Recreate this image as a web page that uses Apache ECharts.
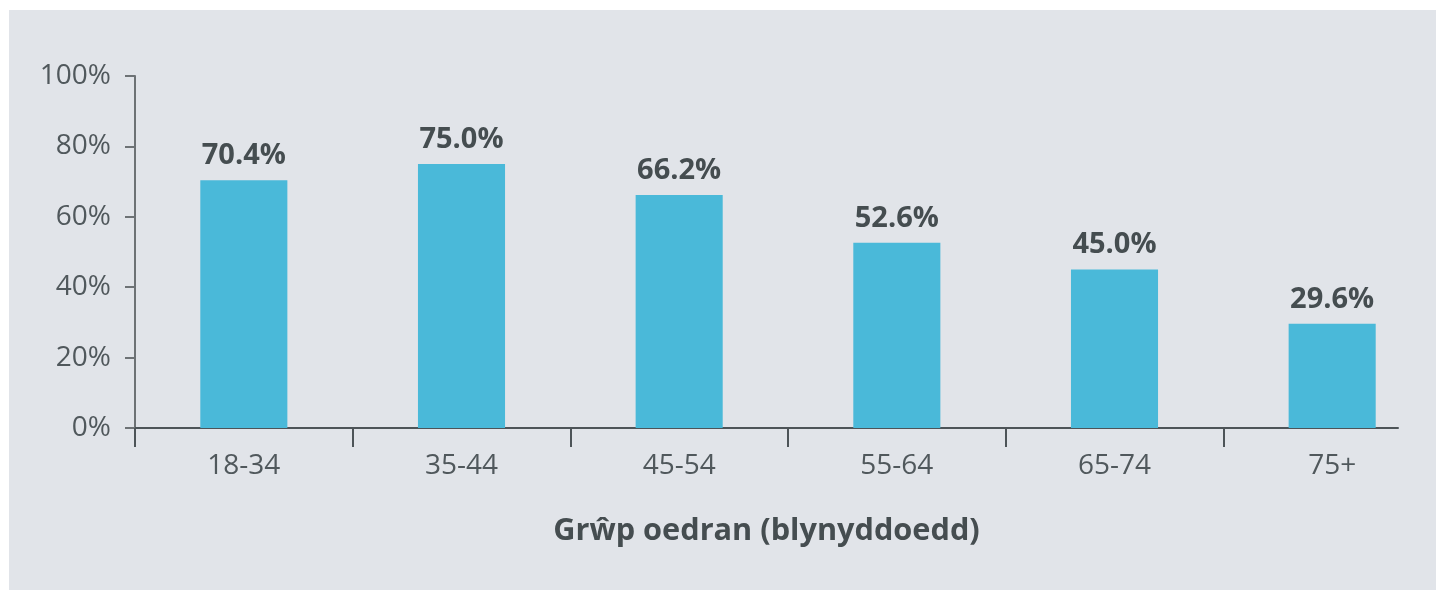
<!DOCTYPE html>
<html>
<head>
<meta charset="utf-8">
<script src="https://cdn.jsdelivr.net/npm/echarts@6/dist/echarts.min.js"></script>
<style>
html,body{margin:0;padding:0;background:#ffffff;width:1436px;height:590px;overflow:hidden;}
#panel{position:absolute;left:9px;top:10px;right:0;bottom:0;background:#e1e4e9;}
#chart{position:absolute;left:0;top:0;width:1436px;height:590px;}
</style>
</head>
<body>
<div id="panel"></div>
<div id="chart"></div>
<script>
const categories = ['18-34', '35-44', '45-54', '55-64', '65-74', '75+'];
const values = [70.4, 75.0, 66.2, 52.6, 45.0, 29.6];
const yTicks = [0, 20, 40, 60, 80, 100];
const xTitle = 'Grŵp oedran (blynyddoedd)';

const FONT = '"Open Sans", "Noto Sans", sans-serif';
const chart = echarts.init(document.getElementById('chart'), null, {renderer: 'canvas'});
chart.setOption({
  backgroundColor: 'transparent',
  animation: false,
  grid: [
    {left: 135, width: 1306, top: 76, height: 352, containLabel: false, outerBoundsMode: 'none'},
    {left: 135, right: 38, top: 76, height: 352, containLabel: false, outerBoundsMode: 'none'}
  ],
  xAxis: [
    {
      type: 'category',
      gridIndex: 0,
      data: categories,
      boundaryGap: true,
      axisLine: {show: false},
      axisTick: {show: true, length: 19, inside: false, lineStyle: {color: '#4d5458', width: 2}},
      axisLabel: {color: '#50585c', fontFamily: FONT, fontSize: 28, margin: 24}
    },
    {
      type: 'value',
      gridIndex: 1,
      min: 0, max: 1,
      axisLine: {show: true, onZero: false, lineStyle: {color: '#4d5458', width: 2}},
      axisTick: {show: false},
      axisLabel: {show: false},
      splitLine: {show: false},
      name: xTitle,
      nameLocation: 'middle',
      nameGap: 88,
      nameTextStyle: {color: '#454d50', fontFamily: FONT, fontSize: 30.7, fontWeight: 'bold'}
    }
  ],
  yAxis: [
    {
      type: 'value',
      gridIndex: 0,
      min: yTicks[0],
      max: yTicks[yTicks.length - 1],
      interval: 20,
      axisLine: {show: true, lineStyle: {color: '#6d7275', width: 2}},
      axisTick: {show: true, length: 10, lineStyle: {color: '#6d7275', width: 2}},
      splitLine: {show: false},
      axisLabel: {color: '#50585c', fontFamily: FONT, fontSize: 28, margin: 24, formatter: '{value}%'}
    },
    {
      type: 'value',
      gridIndex: 1,
      min: 0, max: 1,
      show: false
    }
  ],
  series: [
    {
      type: 'bar',
      xAxisIndex: 0,
      yAxisIndex: 0,
      data: values,
      barWidth: '40%',
      itemStyle: {color: '#4ab9d9'},
      label: {
        show: true,
        position: 'top',
        distance: 10,
        color: '#454d50',
        fontFamily: FONT,
        fontSize: 29,
        fontWeight: 'bold',
        formatter: p => p.value.toFixed(1) + '%'
      }
    }
  ]
});
</script>
</body>
</html>
